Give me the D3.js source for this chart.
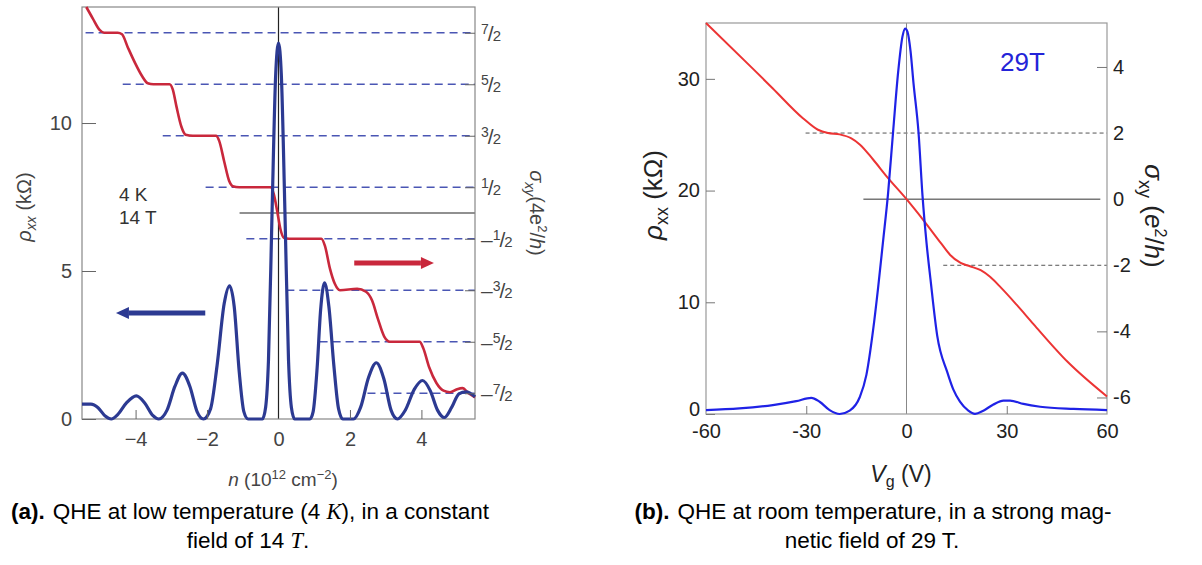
<!DOCTYPE html>
<html>
<head>
<meta charset="utf-8">
<script src="https://cdn.jsdelivr.net/npm/d3@7"></script>
<style>
body { margin: 0; background: #fff; }
text { font-family: "Liberation Sans", Arial, sans-serif; }
.narrow { font-family: "Liberation Sans Narrow", "Liberation Sans", Arial, sans-serif; }
</style>
</head>
<body>
<svg id="fig" width="1202" height="565"></svg>
<script>
// ---- panel (a): 4 K, 14 T ----
// rho_xx (kOhm) vs n (1e12 cm^-2)
var aRho = [[-5.5,0.5],[-5.25,0.5],[-5.05,0.38],[-4.85,0.1],[-4.68,0],[-4.5,0.15],[-4.25,0.55],[-3.98,0.78],[-3.75,0.55],[-3.52,0.12],[-3.35,0],
  [-3.12,0.3],[-2.9,1.1],[-2.69,1.55],[-2.48,1.1],[-2.28,0.25],[-2.1,0],[-1.9,0.35],[-1.72,1.8],[-1.52,3.9],[-1.37,4.5],[-1.24,3.8],[-1.1,1.6],
  [-0.97,0.25],[-0.85,0],[-0.45,0],[-0.36,0.4],[-0.28,2],[-0.18,7],[-0.08,11.6],[0,12.7],[0.08,11.6],[0.18,7],[0.28,2],[0.36,0.4],[0.45,0],
  [0.88,0],[0.97,0.25],[1.08,1.7],[1.18,3.7],[1.29,4.6],[1.41,3.8],[1.55,1.8],[1.68,0.35],[1.8,0],[2.1,0],[2.3,0.4],[2.52,1.4],[2.74,1.9],
  [2.95,1.35],[3.15,0.3],[3.33,0],[3.55,0.3],[3.8,1.0],[4.03,1.3],[4.25,0.95],[4.45,0.3],[4.64,0.05],[4.85,0.4],[5.05,0.85],[5.25,0.92],[5.5,0.75]];
// sigma_xy (4e^2/h) vs n
var aSigma = [[-5.38,4.0],[-5.2,3.78],[-5.0,3.55],[-4.88,3.5],[-4.5,3.5],[-4.38,3.47],[-4.22,3.22],[-4.02,2.92],[-3.82,2.66],[-3.66,2.52],[-3.5,2.5],
  [-3.05,2.5],[-2.96,2.4],[-2.86,2.08],[-2.72,1.68],[-2.6,1.52],[-2.4,1.5],[-1.75,1.5],[-1.66,1.4],[-1.52,1.0],[-1.38,0.62],[-1.28,0.52],[-1.1,0.5],
  [-0.22,0.5],[-0.13,0.36],[-0.04,0.05],[0.05,-0.3],[0.15,-0.48],[0.3,-0.5],[1.2,-0.5],[1.3,-0.64],[1.44,-1.08],[1.58,-1.38],[1.72,-1.5],[2.2,-1.47],
  [2.45,-1.53],[2.62,-1.7],[2.78,-2.05],[2.96,-2.4],[3.12,-2.5],[3.95,-2.5],[4.05,-2.62],[4.22,-3.0],[4.42,-3.3],[4.62,-3.45],[4.8,-3.48],
  [5.0,-3.42],[5.15,-3.4],[5.32,-3.5],[5.5,-3.58]];
var aTicksLeft = [0, 5, 10];
var aTicksBottom = [-4, -2, 0, 2, 4];
var aTicksRight = [3.5, 2.5, 1.5, 0.5, -0.5, -1.5, -2.5, -3.5];
var aDashStart = [-5.4, -4.36, -3.24, -2.04, -0.9, 0.22, 1.15, 2.49]; // n where each plateau guide begins

// ---- panel (b): room temperature, 29 T ----
var bRho = [[-60,0.35],[-50,0.5],[-40,0.8],[-33,1.15],[-28.5,1.45],[-26,1.1],[-23,0.35],[-20,0],[-17,0.3],[-14,1.5],[-12,3.5],[-10,7.5],
  [-8.5,11.3],[-7,15.5],[-5.5,19.8],[-4,25.3],[-2.5,30.6],[-1.2,33.8],[-0.4,34.5],[0.3,34.2],[1.2,32.5],[2.1,29.6],[3.6,25.2],[4.8,19.5],
  [6,15.3],[7.2,12],[9.2,7],[12.2,3.75],[14,2.2],[16,1.1],[18.5,0.3],[20.5,0.02],[23,0.3],[26,0.85],[29,1.2],[31,1.2],[35,0.9],[40,0.65],[50,0.45],[60,0.35]];
var bSigma = [[-60,5.33],[-46,3.95],[-40,3.35],[-31,2.45],[-26.5,2.1],[-23.5,2.0],[-20,1.96],[-16.5,1.84],[-13.9,1.65],[-10,1.2],[-5.7,0.66],
  [0,0],[5.1,-0.64],[10.3,-1.33],[13,-1.68],[16.2,-1.93],[19,-2.03],[22.2,-2.15],[25,-2.35],[28.2,-2.67],[33,-3.2],[38,-3.78],[48.2,-4.92],[60,-5.97]];
var bTicksLeft = [0, 10, 20, 30];
var bTicksBottom = [-60, -30, 0, 30, 60];
var bTicksRight = [-6, -4, -2, 0, 2, 4];
var bGuides = [{s: 2, from: -30.2, to: 60, dash: true}, {s: 0, from: -12.9, to: 58, dash: false}, {s: -2, from: 11, to: 60, dash: true}];

var svg = d3.select("#fig");
svg.append("rect").attr("width", 1202).attr("height", 565).attr("fill", "#fff");

/* ================= panel (a) ================= */
var xA = d3.scaleLinear().domain([-5.5, 5.5]).range([82, 475]);
var yA = d3.scaleLinear().domain([0, 13.92]).range([419, 7]);
var yA2 = d3.scaleLinear().domain([-4, 4]).range([419, 7]);
var ga = svg.append("g");

// plateau guides
aTicksRight.forEach(function(v, i) {
  ga.append("line")
    .attr("x1", xA(aDashStart[i])).attr("x2", xA(5.5))
    .attr("y1", yA2(v)).attr("y2", yA2(v))
    .attr("stroke", "#4a56b4").attr("stroke-width", 1.3).attr("stroke-dasharray", "8,5");
});
ga.append("line") // sigma = 0
  .attr("x1", xA(-1.09)).attr("x2", xA(5.5)).attr("y1", yA2(0)).attr("y2", yA2(0))
  .attr("stroke", "#222").attr("stroke-width", 1.2);
ga.append("line") // n = 0
  .attr("x1", xA(0)).attr("x2", xA(0)).attr("y1", yA.range()[1]).attr("y2", yA.range()[0])
  .attr("stroke", "#222").attr("stroke-width", 1.2);

// frame
ga.append("rect").attr("x", 82).attr("y", 7).attr("width", 393).attr("height", 412)
  .attr("fill", "none").attr("stroke", "#888").attr("stroke-width", 1.2);

var lineA = d3.line().x(function(d) { return xA(d[0]); }).curve(d3.curveMonotoneX);
ga.append("path").datum(aSigma)
  .attr("d", lineA.y(function(d) { return yA2(d[1]); }))
  .attr("fill", "none").attr("stroke", "#c9283c").attr("stroke-width", 2.6);
ga.append("path").datum(aRho)
  .attr("d", lineA.y(function(d) { return yA(d[1]); }))
  .attr("fill", "none").attr("stroke", "#2c3a92").attr("stroke-width", 3.2).attr("stroke-linejoin", "round");

// arrows
function arrow(g, x0, x1, y, color) {
  var dir = x1 > x0 ? 1 : -1;
  var hx = x1 - dir * 13;
  g.append("line").attr("x1", x0).attr("x2", hx).attr("y1", y).attr("y2", y)
    .attr("stroke", color).attr("stroke-width", 5);
  g.append("path").attr("d", "M" + x1 + "," + y + "L" + hx + "," + (y - 6) + "L" + hx + "," + (y + 6) + "Z")
    .attr("fill", color);
}
arrow(ga, xA(-2.05), xA(-4.55), yA(3.58), "#2c3a92");
arrow(ga, xA(2.12), xA(4.35), yA2(-0.97), "#c9283c");

// axes
var axA = ga.append("g").attr("class", "narrow").attr("transform", "translate(82,0)")
  .call(d3.axisLeft(yA).tickValues(aTicksLeft).tickSize(-14).tickPadding(10));
var axB = ga.append("g").attr("class", "narrow").attr("transform", "translate(0,419)")
  .call(d3.axisBottom(xA).tickValues(aTicksBottom).tickSize(-9).tickPadding(13));
var axR = ga.append("g").attr("transform", "translate(475,0)")
  .call(d3.axisRight(yA2).tickValues(aTicksRight).tickSize(-10).tickFormat(""));
[axA, axB, axR].forEach(function(a) {
  a.select(".domain").remove();
  a.selectAll("line").attr("stroke", "#666");
  a.selectAll("text").attr("font-size", 20).attr("fill", "#444").attr("font-family", null);
});
axB.selectAll(".tick").filter(function(d) { return d === 0; }).select("line").remove();

aTicksRight.forEach(function(v) {
  var t = ga.append("text").attr("class", "narrow").attr("x", 481).attr("y", yA2(v) + 8)
    .attr("font-size", 21).attr("fill", "#444");
  if (v < 0) t.append("tspan").text("–");
  t.append("tspan").attr("font-size", 14).attr("dy", -7).text(Math.abs(v * 2));
  t.append("tspan").attr("dy", 7).attr("dx", -1).text("/");
  t.append("tspan").attr("font-size", 15).attr("dx", -1).text("2");
});

// labels
ga.append("text").attr("class", "narrow").attr("x", 119).attr("y", 201).attr("font-size", 19).attr("fill", "#333").text("4 K");
ga.append("text").attr("class", "narrow").attr("x", 119).attr("y", 224).attr("font-size", 19).attr("fill", "#333").text("14 T");

var ly = ga.append("text").attr("class", "narrow").attr("transform", "translate(31,207) rotate(-90)")
  .attr("text-anchor", "middle").attr("font-size", 20).attr("fill", "#444");
ly.append("tspan").attr("font-style", "italic").text("ρ");
ly.append("tspan").attr("font-style", "italic").attr("font-size", 14).attr("dy", 5).text("xx");
ly.append("tspan").attr("dy", -5).text(" (kΩ)");

var ry = ga.append("text").attr("class", "narrow").attr("transform", "translate(530,213) rotate(90)")
  .attr("text-anchor", "middle").attr("font-size", 20).attr("fill", "#444");
ry.append("tspan").attr("font-style", "italic").text("σ");
ry.append("tspan").attr("font-style", "italic").attr("font-size", 14).attr("dy", 5).text("xy");
ry.append("tspan").attr("dy", -5).text("(4e");
ry.append("tspan").attr("font-size", 13).attr("dy", -8).text("2");
ry.append("tspan").attr("dy", 8).text("/");
ry.append("tspan").attr("font-style", "italic").text("h");
ry.append("tspan").text(")");

var lx = ga.append("text").attr("class", "narrow").attr("x", 283).attr("y", 486)
  .attr("text-anchor", "middle").attr("font-size", 19).attr("fill", "#444");
lx.append("tspan").attr("font-style", "italic").text("n");
lx.append("tspan").text(" (10");
lx.append("tspan").attr("font-size", 13).attr("dy", -7).text("12");
lx.append("tspan").attr("dy", 7).text(" cm");
lx.append("tspan").attr("font-size", 13).attr("dy", -7).text("−2");
lx.append("tspan").attr("dy", 7).text(")");

/* ================= panel (b) ================= */
var xB = d3.scaleLinear().domain([-60, 60]).range([706, 1107]);
var yB = d3.scaleLinear().domain([0, 35]).range([414, 23]);
var yB2 = d3.scaleLinear().domain([-6.5, 5.33]).range([414, 23]);
var gb = svg.append("g");

bGuides.forEach(function(g) {
  gb.append("line")
    .attr("x1", xB(g.from)).attr("x2", xB(g.to)).attr("y1", yB2(g.s)).attr("y2", yB2(g.s))
    .attr("stroke", g.dash ? "#555" : "#333").attr("stroke-width", 1)
    .attr("stroke-dasharray", g.dash ? "4,3" : null);
});
gb.append("line")
  .attr("x1", xB(0)).attr("x2", xB(0)).attr("y1", 23).attr("y2", 414)
  .attr("stroke", "#888").attr("stroke-width", 1);
gb.append("rect").attr("x", 706).attr("y", 23).attr("width", 401).attr("height", 391)
  .attr("fill", "none").attr("stroke", "#999").attr("stroke-width", 1.2);

var lineB = d3.line().x(function(d) { return xB(d[0]); }).curve(d3.curveMonotoneX);
gb.append("path").datum(bSigma)
  .attr("d", lineB.y(function(d) { return yB2(d[1]); }))
  .attr("fill", "none").attr("stroke", "#ec3434").attr("stroke-width", 2);
gb.append("path").datum(bRho)
  .attr("d", lineB.y(function(d) { return yB(d[1]); }))
  .attr("fill", "none").attr("stroke", "#1f22e6").attr("stroke-width", 2.2);

var plain = function(d) { return String(d); }; // hyphen minus, as in the figure
var bxL = gb.append("g").attr("transform", "translate(706,0)")
  .call(d3.axisLeft(yB).tickValues(bTicksLeft).tickSize(-9).tickPadding(6));
var bxB = gb.append("g").attr("transform", "translate(0,414)")
  .call(d3.axisBottom(xB).tickValues(bTicksBottom).tickSize(-8).tickPadding(10).tickFormat(plain));
var bxR = gb.append("g").attr("transform", "translate(1107,0)")
  .call(d3.axisRight(yB2).tickValues(bTicksRight).tickSize(-10).tickPadding(6).tickFormat(plain));
[bxL, bxB, bxR].forEach(function(a) {
  a.select(".domain").remove();
  a.selectAll("line").attr("stroke", "#777");
  a.selectAll("text").attr("font-size", 20).attr("fill", "#222").attr("font-family", null);
});
bxL.selectAll(".tick").filter(function(d) { return d === 0; }).select("text").attr("dy", "0.05em");
bxB.selectAll(".tick").filter(function(d) { return d === 0 || Math.abs(d) === 60; }).select("line").remove();
bxR.selectAll(".tick").filter(function(d) { return d === 0 || d === 2 || d === -2; }).select("line").remove();

gb.append("text").attr("x", 1000).attr("y", 71).attr("font-size", 26).attr("fill", "#2424d8").text("29T");

var bly = gb.append("text").attr("transform", "translate(662,195) rotate(-90)")
  .attr("text-anchor", "middle").attr("font-size", 26).attr("fill", "#222");
bly.append("tspan").attr("font-style", "italic").text("ρ");
bly.append("tspan").attr("font-size", 18).attr("dy", 6).text("xx");
bly.append("tspan").attr("dy", -6).text(" (kΩ)");

var bry = gb.append("text").attr("transform", "translate(1145,216) rotate(90)")
  .attr("text-anchor", "middle").attr("font-size", 26).attr("fill", "#222");
bry.append("tspan").attr("font-style", "italic").text("σ");
bry.append("tspan").attr("font-size", 18).attr("dy", 6).text("xy");
bry.append("tspan").attr("dy", -6).text(" (");
bry.append("tspan").attr("font-style", "italic").text("e");
bry.append("tspan").attr("font-size", 16).attr("dy", -10).text("2");
bry.append("tspan").attr("dy", 10).text("/");
bry.append("tspan").attr("font-style", "italic").text("h");
bry.append("tspan").text(")");

var blx = gb.append("text").attr("x", 901).attr("y", 482)
  .attr("text-anchor", "middle").attr("font-size", 23).attr("fill", "#222");
blx.append("tspan").attr("font-style", "italic").text("V");
blx.append("tspan").attr("font-size", 16).attr("dy", 5).text("g");
blx.append("tspan").attr("dy", -5).text(" (V)");

/* ================= captions ================= */
function caption(x, y, runs) {
  var t = svg.append("text").attr("x", x).attr("y", y).attr("text-anchor", "middle")
    .attr("font-size", 22.5).attr("fill", "#000");
  runs.forEach(function(r) {
    var s = t.append("tspan").text(r.t);
    if (r.b) s.attr("font-weight", "bold");
    if (r.m) s.attr("font-style", "italic").attr("font-family", "Liberation Serif, serif");
    if (r.dx) s.attr("dx", r.dx);
  });
}
caption(250, 519, [{t: "(a).", b: true}, {t: "QHE at low temperature (4 ", dx: 8}, {t: "K", m: true}, {t: "), in a constant"}]);
caption(248, 548, [{t: "field of 14 "}, {t: "T", m: true}, {t: "."}]);
caption(873, 519, [{t: "(b).", b: true}, {t: "QHE at room temperature, in a strong mag-", dx: 8}]);
caption(872, 548, [{t: "netic field of 29 T."}]);
</script>
</body>
</html>
